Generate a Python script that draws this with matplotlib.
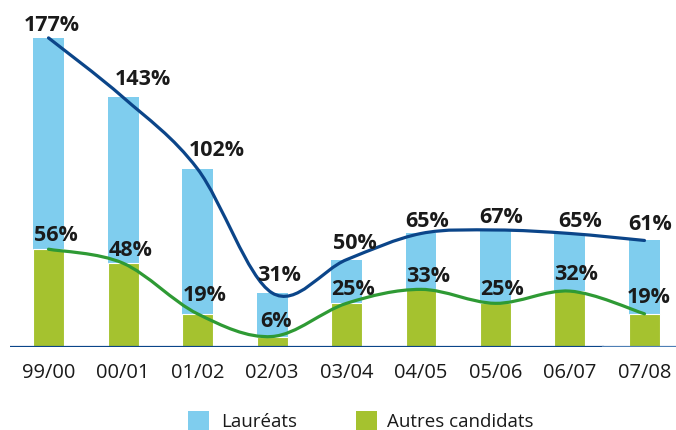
import matplotlib
matplotlib.use('Agg')
import matplotlib.pyplot as plt
from matplotlib.path import Path
from matplotlib.patches import PathPatch, Rectangle
import numpy as np

categories = ['99/00', '00/01', '01/02', '02/03', '03/04', '04/05', '05/06', '06/07', '07/08']
laureats = [177, 143, 102, 31, 50, 65, 67, 65, 61]
autres = [56, 48, 19, 6, 25, 33, 25, 32, 19]
series_names = ['Lauréats', 'Autres candidats']

# label placement offsets in pixels (style only)
laureat_dx = [3, 20, 19, 7, 8, 6, 6, 10, 6]
laureat_dy = [7, 12, 13, 12, 11, 6, 7, 6, 10]
autres_dx = [7, 8, 7, 4, 7, 7, 7, 6, 4]
autres_dy = [8, 7, 13, 10, 8, 7, 8, 11, 11]

LIGHT_BLUE = '#7FCDEE'
GREEN = '#A5C22F'
NAVY = '#0B4589'
DGREEN = '#2E9A34'
TXT = '#1a1a1a'

plt.rcParams['font.family'] = ['Open Sans', 'DejaVu Sans']

fig = plt.figure(figsize=(6.76, 4.3), dpi=100)
ax = fig.add_axes([10 / 676, 83 / 430, 666 / 676, 347 / 430])
x = np.arange(len(categories))
w = 0.416

ax.bar(x, laureats, width=w, color=LIGHT_BLUE, zorder=1)
ax.bar(x, autres, width=w, color=GREEN, edgecolor='white', linewidth=0.8, zorder=2)


def smooth_path(xs, ys, t=0.5):
    xs = np.asarray(xs, float)
    ys = np.asarray(ys, float)
    pts = np.column_stack([xs, ys])
    n = len(pts)
    verts = [pts[0]]
    codes = [Path.MOVETO]
    for i in range(n - 1):
        p0 = pts[i - 1] if i > 0 else pts[i]
        p1 = pts[i]
        p2 = pts[i + 1]
        p3 = pts[i + 2] if i + 2 < n else pts[i + 1]
        c1 = p1 + (p2 - p0) * t / 3.0
        c2 = p2 - (p3 - p1) * t / 3.0
        verts += [c1, c2, p2]
        codes += [Path.CURVE4] * 3
    return Path(verts, codes)


ax.add_patch(PathPatch(smooth_path(x, laureats, 0.5), fill=False, edgecolor=NAVY,
                       lw=2.3, zorder=3, capstyle='round'))
ax.add_patch(PathPatch(smooth_path(x, autres, 0.5), fill=False, edgecolor=DGREEN,
                       lw=2.3, zorder=3, capstyle='round'))

for i, v in enumerate(laureats):
    ax.annotate(f'{v}%', (x[i], v), xytext=(laureat_dx[i], laureat_dy[i]),
                textcoords='offset pixels', ha='center', va='baseline',
                fontsize=15.5, fontweight='bold', color=TXT, zorder=5)
for i, v in enumerate(autres):
    ax.annotate(f'{v}%', (x[i], v), xytext=(autres_dx[i], autres_dy[i]),
                textcoords='offset pixels', ha='center', va='baseline',
                fontsize=15.5, fontweight='bold', color=TXT, zorder=5)

ax.axhline(0, color=NAVY, lw=1.6, zorder=4, xmax=0.89)
ax.axhline(0, color='#4E7FB5', lw=1.6, zorder=4, xmin=0.89)

ax.set_xlim(-0.517, 8.423)
ax.set_ylim(0, 198.7)
ax.set_xticks(x)
ax.set_xticklabels(categories, fontsize=14.5, color=TXT)
ax.tick_params(axis='x', length=0, pad=11.5)
ax.set_yticks([])
for s in ax.spines.values():
    s.set_visible(False)

# legend
fig.patches.append(Rectangle((188 / 676, 0), 21 / 676, 19 / 430, transform=fig.transFigure,
                             facecolor=LIGHT_BLUE, edgecolor='none'))
fig.text(221 / 676, 3 / 430, series_names[0], fontsize=13.5, color=TXT, va='baseline')
fig.patches.append(Rectangle((356 / 676, 0), 21 / 676, 19 / 430, transform=fig.transFigure,
                             facecolor=GREEN, edgecolor='none'))
fig.text(387 / 676, 3 / 430, series_names[1], fontsize=13.5, color=TXT, va='baseline')

fig.savefig('out.png', dpi=100)
